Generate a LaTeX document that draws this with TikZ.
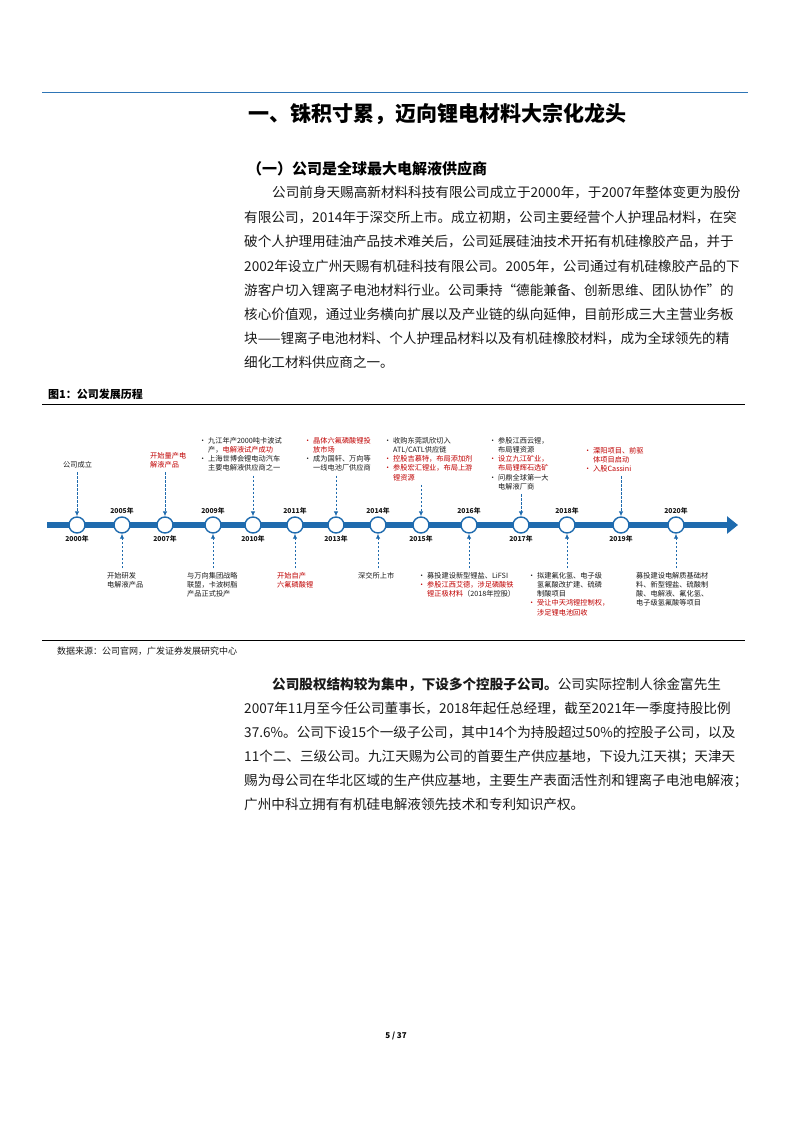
\documentclass[tikz,border=0pt]{standalone}
\usepackage{fontspec}
\setmainfont{Noto Sans CJK SC}
\usetikzlibrary{arrows.meta}
\XeTeXlinebreaklocale "zh"
\XeTeXlinebreakskip=0pt plus 3pt
\definecolor{tlblue}{HTML}{1F6BAE}
\definecolor{topblue}{HTML}{2E75B6}
\definecolor{myred}{HTML}{C00000}
\definecolor{bodyc}{HTML}{1A1A1A}
\newcommand{\bl}{\makebox[9pt][l]{•}}
\newcommand{\ind}{\hspace*{9pt}}
\newcommand{\R}[1]{\textcolor{myred}{#1}}
\begin{document}
\begin{tikzpicture}[x=1pt,y=-1pt,
  body/.style={anchor=base west,inner sep=0,font=\fontsize{13.6}{16}\selectfont,text=bodyc},
  tl/.style={anchor=north west,inner sep=0,align=left,font=\fontsize{7.2}{9.2}\selectfont,text=bodyc},
  yr/.style={inner sep=0,font=\bfseries\fontsize{6.8}{8}\selectfont,text=bodyc},
  dot/.style={circle,draw=tlblue,fill=white,line width=1.4pt,minimum size=16pt,inner sep=0},
  dasharrow/.style={draw=tlblue,dashed,dash pattern=on 2.5pt off 1.5pt,line width=0.9pt,-{Latex[length=5pt,width=4.5pt]}}]
\useasboundingbox (0,0) rectangle (793,1122);
\fill[white] (0,0) rectangle (793,1122);
\draw[topblue,line width=0.8pt] (42,92) -- (748,92);
\node[anchor=center,inner sep=0,font=\bfseries\fontsize{21}{25}\selectfont] (title) at (437,114) {一、铢积寸累，迈向锂电材料大宗化龙头};
\node[anchor=base west,inner sep=0,font=\bfseries\fontsize{15}{18}\selectfont] (sub) at (247,174) {（一）公司是全球最大电解液供应商};
% paragraph 1
\node[body] (p1) at (272,197) {\hbox to 473pt{公司前身天赐高新材料科技有限公司成立于2000年，于2007年整体变更为股份}};
\node[body] (p2) at (244,222) {\hbox to 501pt{有限公司，2014年于深交所上市。成立初期，公司主要经营个人护理品材料，在突}};
\node[body] (p3) at (244,246) {\hbox to 501pt{破个人护理用硅油产品技术难关后，公司延展硅油技术开拓有机硅橡胶产品，并于}};
\node[body] (p4) at (244,271) {\hbox to 501pt{2002年设立广州天赐有机硅科技有限公司。2005年，公司通过有机硅橡胶产品的下}};
\node[body] (p5) at (244,295) {\hbox to 501pt{游客户切入锂离子电池材料行业。公司秉持“德能兼备、创新思维、团队协作”的}};
\node[body] (p6) at (244,319) {\hbox to 501pt{核心价值观，通过业务横向扩展以及产业链的纵向延伸，目前形成三大主营业务板}};
\node[body] (p7) at (244,343) {\hbox to 501pt{块——锂离子电池材料、个人护理品材料以及有机硅橡胶材料，成为全球领先的精}};
\node[body] (p8) at (244,367) {细化工材料供应商之一。};
% figure caption
\node[anchor=base west,inner sep=0,font=\bfseries\fontsize{11}{13}\selectfont] (cap) at (48,398) {图1：公司发展历程};
\draw[black,line width=1pt] (42,404) -- (745,404);
% timeline bar
\coordinate (bs) at (47,525);
\coordinate (be) at (738,525);
\draw[tlblue,line width=6.5pt,-{Triangle[length=11pt,width=17pt]}] (bs) -- (be);
\foreach \n/\x in {2000/77,2005/122,2007/165,2009/213,2010/253,2011/295,2013/336,2014/378,2015/421,2016/469,2017/521,2018/567,2019/621,2020/676}
  \node[dot] (c\n) at (\x,525) {};
\foreach \n in {2005,2009,2011,2014,2016,2018,2020}
  \node[yr] (y\n) at ([yshift=14pt]c\n.center) {\n 年};
\foreach \n in {2000,2007,2010,2013,2015,2017,2019}
  \node[yr] (y\n) at ([yshift=-14pt]c\n.center) {\n 年};
% top texts
\node[tl] (t2000) at (63,461) {公司成立};
\node[tl,text=myred] (t2007) at (150,452) {开始量产电\\解液产品};
\node[tl] (t2010) at (199,437) {\bl 九江年产2000吨卡波试\\\ind 产，\R{电解液试产成功}\\\bl 上海世博会锂电动汽车\\\ind 主要电解液供应商之一};
\node[tl] (t2013) at (304,437) {\R{\bl 晶体六氟磷酸锂投}\\\ind\R{放市场}\\\bl 成为国轩、万向等\\\ind 一线电池厂供应商};
\node[tl] (t2015) at (384,437) {\bl 收购东莞凯欣切入\\\ind ATL/CATL供应链\\\R{\bl 控股吉慕特，布局添加剂}\\\R{\bl 参股宏汇锂业，布局上游}\\\ind\R{锂资源}};
\node[tl] (t2017) at (489,437) {\bl 参股江西云锂，\\\ind 布局锂资源\\\R{\bl 设立九江矿业，}\\\ind\R{布局锂辉石选矿}\\\bl 问鼎全球第一大\\\ind 电解液厂商};
\node[tl] (t2019) at (584,447) {\R{\bl 溧阳项目、前驱}\\\ind\R{体项目启动}\\\R{\bl 入股Cassini}};
% bottom texts
\node[tl] (t2005) at (107,572) {开始研发\\电解液产品};
\node[tl] (t2009) at (187,572) {与万向集团战略\\联盟，卡波树脂\\产品正式投产};
\node[tl,text=myred] (t2011) at (277,572) {开始自产\\六氟磷酸锂};
\node[tl] (t2014) at (358,572) {深交所上市};
\node[tl] (t2016) at (418,572) {\bl 募投建设新型锂盐、LiFSI\\\R{\bl 参股江西艾德，涉足磷酸铁}\\\ind\R{锂正极材料}（2018年控股）};
\node[tl] (t2018) at (528,572) {\bl 拟建氟化氢、电子级\\\ind 氢氟酸改扩建、硫磷\\\ind 制酸项目\\\R{\bl 受让中天鸿锂控制权，}\\\ind\R{涉足锂电池回收}};
\node[tl] (t2020) at (636,572) {募投建设电解质基础材\\料、新型锂盐、硫酸制\\酸、电解液、氟化氢、\\电子级氢氟酸等项目};
% connectors
\foreach \n in {2000,2007,2010,2013,2015,2017,2019}
  \draw[dasharrow] ([yshift=-4pt]c\n |- t\n.south) -- (c\n.north);
\foreach \n in {2005,2009,2011,2014,2016,2018,2020}
  \draw[dasharrow] ([yshift=4pt]c\n |- t\n.north) -- (c\n.south);
\draw[black,line width=0.8pt] (42,640) -- (745,640);
\node[anchor=base west,inner sep=0,font=\fontsize{9}{11}\selectfont,text=bodyc] (src) at (57,654) {数据来源：公司官网，广发证券发展研究中心};
% paragraph 2
\node[body] (q1) at (272,689) {\hbox to 473pt{\textbf{公司股权结构较为集中，下设多个控股子公司。}公司实际控制人徐金富先生}};
\node[body] (q2) at (244,713) {\hbox to 501pt{2007年11月至今任公司董事长，2018年起任总经理，截至2021年一季度持股比例}};
\node[body] (q3) at (244,737) {\hbox to 501pt{37.6\%。公司下设15个一级子公司，其中14个为持股超过50\%的控股子公司，以及}};
\node[body] (q4) at (244,761) {\hbox to 501pt{11个二、三级公司。九江天赐为公司的首要生产供应基地，下设九江天祺；天津天}};
\node[body] (q5) at (244,785) {\hbox to 501pt{赐为母公司在华北区域的生产供应基地，主要生产表面活性剂和锂离子电池电解液；}};
\node[body] (q6) at (244,809) {广州中科立拥有有机硅电解液领先技术和专利知识产权。};
\node[anchor=center,inner sep=0,font=\bfseries\fontsize{8}{10}\selectfont] (pg) at (396,1036) {5 / 37};
\end{tikzpicture}
\end{document}
